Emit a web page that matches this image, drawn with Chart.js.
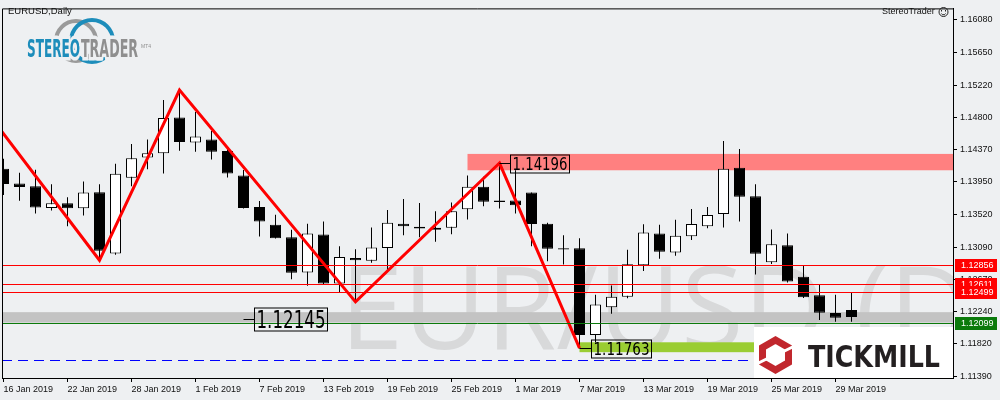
<!DOCTYPE html>
<html>
<head>
<meta charset="utf-8">
<script src="https://cdn.jsdelivr.net/npm/chart.js@4.4.1/dist/chart.umd.min.js"></script>
<style>
  html, body { margin: 0; padding: 0; background: #eef0f2; }
  #wrap { width: 1000px; height: 400px; }
</style>
</head>
<body>
<div id="wrap"><canvas id="chart" width="1000" height="400"></canvas></div>
<script>
// daily EURUSD candles, 16 Jan 2019 .. 1 Apr 2019
const dates = [
  "16 Jan 2019", "17 Jan 2019", "18 Jan 2019", "21 Jan 2019", "22 Jan 2019", "23 Jan 2019",
  "24 Jan 2019", "25 Jan 2019", "28 Jan 2019", "29 Jan 2019", "30 Jan 2019", "31 Jan 2019",
  "1 Feb 2019", "4 Feb 2019", "5 Feb 2019", "6 Feb 2019", "7 Feb 2019", "8 Feb 2019",
  "11 Feb 2019", "12 Feb 2019", "13 Feb 2019", "14 Feb 2019", "15 Feb 2019", "18 Feb 2019",
  "19 Feb 2019", "20 Feb 2019", "21 Feb 2019", "22 Feb 2019", "25 Feb 2019", "26 Feb 2019",
  "27 Feb 2019", "28 Feb 2019", "1 Mar 2019", "4 Mar 2019", "5 Mar 2019", "6 Mar 2019",
  "7 Mar 2019", "8 Mar 2019", "11 Mar 2019", "12 Mar 2019", "13 Mar 2019", "14 Mar 2019",
  "15 Mar 2019", "18 Mar 2019", "19 Mar 2019", "20 Mar 2019", "21 Mar 2019", "22 Mar 2019",
  "25 Mar 2019", "26 Mar 2019", "27 Mar 2019", "28 Mar 2019", "29 Mar 2019", "1 Apr 2019"
];
const opens = [
  1.14122, 1.13928, 1.13890, 1.13606, 1.13666, 1.13602, 1.13812, 1.13008, 1.14002, 1.14268,
  1.14325, 1.14793, 1.14467, 1.14505, 1.14354, 1.14032, 1.13619, 1.13386, 1.13219, 1.12758,
  1.13257, 1.12612, 1.12947, 1.12913, 1.13080, 1.13399, 1.13360, 1.13344, 1.13344, 1.13589,
  1.13886, 1.13705, 1.13705, 1.13808, 1.13399, 1.13077, 1.13077, 1.11937, 1.12302, 1.12440,
  1.12853, 1.13270, 1.13021, 1.13235, 1.13364, 1.13525, 1.14135, 1.13761, 1.12892, 1.13115,
  1.12702, 1.12457, 1.12225, 1.12263
];
const highs = [
  1.14251, 1.14070, 1.14109, 1.13916, 1.13748, 1.13954, 1.13916, 1.14187, 1.14445, 1.14505,
  1.15026, 1.15155, 1.14867, 1.14616, 1.14380, 1.14105, 1.13696, 1.13515, 1.13318, 1.13399,
  1.13429, 1.13102, 1.13064, 1.13348, 1.13580, 1.13722, 1.13670, 1.13563, 1.13679, 1.14032,
  1.14015, 1.14196, 1.14100, 1.13808, 1.13412, 1.13248, 1.13206, 1.12466, 1.12586, 1.13055,
  1.13390, 1.13386, 1.13451, 1.13593, 1.13619, 1.14487, 1.14380, 1.13916, 1.13322, 1.13270,
  1.12853, 1.12599, 1.12466, 1.12500
];
const lows = [
  1.13777, 1.13700, 1.13532, 1.13571, 1.13364, 1.13506, 1.12918, 1.12990, 1.13890, 1.14113,
  1.14058, 1.14358, 1.14345, 1.14242, 1.14006, 1.13599, 1.13232, 1.13205, 1.12667, 1.12582,
  1.12605, 1.12487, 1.12371, 1.12887, 1.12763, 1.13248, 1.13219, 1.13163, 1.13261, 1.13455,
  1.13628, 1.13597, 1.13532, 1.13102, 1.12905, 1.12861, 1.11763, 1.11841, 1.12216, 1.12418,
  1.12776, 1.12939, 1.12977, 1.13184, 1.13339, 1.13348, 1.13429, 1.12732, 1.12870, 1.12625,
  1.12422, 1.12134, 1.12109, 1.12109
];
const closes = [
  1.13919, 1.13881, 1.13610, 1.13666, 1.13602, 1.13808, 1.13042, 1.14054, 1.14260, 1.14325,
  1.14789, 1.14474, 1.14544, 1.14345, 1.14058, 1.13606, 1.13429, 1.13209, 1.12754, 1.13270,
  1.12612, 1.12960, 1.12918, 1.13086, 1.13412, 1.13364, 1.13334, 1.13318, 1.13563, 1.13886,
  1.13687, 1.13683, 1.13640, 1.13395, 1.13068, 1.13060, 1.11937, 1.12337, 1.12440, 1.12866,
  1.13283, 1.13029, 1.13241, 1.13395, 1.13512, 1.14122, 1.13752, 1.13003, 1.13128, 1.12638,
  1.12431, 1.12229, 1.12164, 1.12173
];

// zigzag swing points (candle index, price); index -4 = 10 Jan 2019, off the left edge
const zigIdx = [-4, 6, 11, 22, 31, 36];
const zigPrice = [1.15690, 1.12918, 1.15155, 1.12371, 1.14196, 1.11763];

// price labels with a leader line
const markIdx = [15, 31, 36];
const markPrice = [1.12145, 1.14196, 1.11763];

// horizontal levels and zones
const redLevels = [1.12856, 1.12611, 1.12499];
const greenLevel = 1.12099;
const blueLevel = 1.11605;
const grayZone = [1.12099, 1.12236];
const resistZone = [1.14101, 1.14316];
const resistStart = 29;
const supportZone = [1.11710, 1.11840];
const supportStart = 36;

// axes
const priceTicks = [1.16080, 1.15650, 1.15220, 1.14800, 1.14370, 1.13950, 1.13520, 1.13090,
  1.12670, 1.12240, 1.11820, 1.11390];
const xTickIdx = [0, 4, 8, 12, 16, 20, 24, 28, 32, 36, 40, 44, 48, 52];
const yMin = 1.113706, yMax = 1.162286;
const xMin = -0.09375, xMax = 59.34375;

const BG = "#eef0f2";
const AXIS_FONT = { family: "'Liberation Sans', Arial, sans-serif", size: 9 };

function fitText(ctx, text, x, y, w, font, color) {
  ctx.save();
  ctx.font = font;
  const m = ctx.measureText(text).width;
  ctx.translate(x, y);
  ctx.scale(w / m, 1);
  ctx.fillStyle = color;
  ctx.textBaseline = "alphabetic";
  ctx.fillText(text, 0, 0);
  ctx.restore();
}

const overlay = {
  id: "overlay",
  beforeDraw(chart) {
    const ctx = chart.ctx;
    ctx.save();
    ctx.fillStyle = BG;
    ctx.fillRect(0, 0, chart.width, chart.height);
    ctx.restore();
  },
  beforeDatasetsDraw(chart) {
    const { ctx, chartArea: a, scales: { x, y } } = chart;
    ctx.save();
    ctx.beginPath();
    ctx.rect(a.left, a.top, a.right - a.left, a.bottom - a.top);
    ctx.clip();

    // symbol watermark
    fitText(ctx, "EUR/USD (D1)", 340, 349, 730, '115px "Open Sans"', "#d8d9da");

    // zones
    ctx.fillStyle = "#c3c3c3";
    ctx.fillRect(a.left, y.getPixelForValue(grayZone[1]), a.right - a.left,
      y.getPixelForValue(grayZone[0]) - y.getPixelForValue(grayZone[1]));
    ctx.fillStyle = "#ff8080";
    const rx = x.getPixelForValue(resistStart);
    ctx.fillRect(rx, y.getPixelForValue(resistZone[1]), a.right - rx,
      y.getPixelForValue(resistZone[0]) - y.getPixelForValue(resistZone[1]));
    ctx.fillStyle = "#9acd32";
    const sx = x.getPixelForValue(supportStart);
    ctx.fillRect(sx, y.getPixelForValue(supportZone[1]), a.right - sx,
      y.getPixelForValue(supportZone[0]) - y.getPixelForValue(supportZone[1]));

    // dashed level
    ctx.strokeStyle = "#0000ff";
    ctx.lineWidth = 1;
    ctx.setLineDash([10, 6]);
    const by = Math.round(y.getPixelForValue(blueLevel)) + 0.5;
    ctx.beginPath();
    ctx.moveTo(a.left, by);
    ctx.lineTo(a.right, by);
    ctx.stroke();
    ctx.restore();
  },
  afterDatasetsDraw(chart) {
    const { ctx, chartArea: a, scales: { x, y } } = chart;
    ctx.save();
    ctx.beginPath();
    ctx.rect(a.left, a.top, a.right - a.left, a.bottom - a.top);
    ctx.clip();
    ctx.lineWidth = 1;
    redLevels.forEach(v => {
      const py = Math.round(y.getPixelForValue(v)) + 0.5;
      ctx.strokeStyle = "#ff0000";
      ctx.beginPath(); ctx.moveTo(a.left, py); ctx.lineTo(a.right, py); ctx.stroke();
    });
    const gy = Math.round(y.getPixelForValue(greenLevel)) + 0.5;
    ctx.strokeStyle = "#0b7a0b";
    ctx.beginPath(); ctx.moveTo(a.left, gy); ctx.lineTo(a.right, gy); ctx.stroke();

    // swing price labels
    const boxW = [73, 59, 60], boxH = [23, 18, 18], fs = [24, 18, 18];
    markIdx.forEach((idx, i) => {
      const px = x.getPixelForValue(idx);
      const py = Math.round(y.getPixelForValue(markPrice[i])) + 0.5;
      const left = Math.round(px + 11) + 0.5;
      ctx.strokeStyle = "#000";
      ctx.beginPath(); ctx.moveTo(px, py); ctx.lineTo(left, py); ctx.stroke();
      ctx.strokeRect(left, Math.round(py - boxH[i] / 2), boxW[i], boxH[i]);
      fitText(ctx, markPrice[i].toFixed(5), left + 2, py + fs[i] * 0.36,
        boxW[i] - 4, fs[i] + 'px "DejaVu Sans"', "#000");
    });
    ctx.restore();
  },
  afterDraw(chart) {
    const { ctx, chartArea: a, scales: { y } } = chart;
    ctx.save();
    // frame top / left
    ctx.strokeStyle = "#000";
    ctx.lineWidth = 1;
    ctx.beginPath();
    ctx.moveTo(a.left + 0.5, a.bottom);
    ctx.lineTo(a.left + 0.5, a.top + 0.5);
    ctx.lineTo(a.right, a.top + 0.5);
    ctx.stroke();

    // price tags on the axis
    ctx.font = "9px 'Liberation Sans', Arial, sans-serif";
    ctx.textBaseline = "middle";
    const tag = (v, col) => {
      const py = Math.round(y.getPixelForValue(v));
      ctx.fillStyle = col;
      ctx.fillRect(955, py - 6, 42, 13);
      ctx.fillStyle = "#fff";
      ctx.fillText(v.toFixed(5), 961, py + 0.5);
    };
    redLevels.forEach(v => tag(v, "#ff0000"));
    tag(greenLevel, "#0b7a0b");

    // captions
    ctx.fillStyle = "#111";
    ctx.font = "9.5px 'Liberation Sans', Arial, sans-serif";
    ctx.fillText("EURUSD,Daily", 8, 11);
    ctx.font = "9px 'Liberation Sans', Arial, sans-serif";
    ctx.fillText("StereoTrader", 882, 12);
    ctx.strokeStyle = "#222";
    ctx.beginPath(); ctx.arc(943.5, 12, 4.5, 0, Math.PI * 2); ctx.stroke();
    ctx.fillStyle = "#222";
    ctx.fillRect(941, 10, 1, 1.5); ctx.fillRect(945, 10, 1, 1.5);
    ctx.beginPath(); ctx.arc(943.5, 12.5, 2.3, 0.15 * Math.PI, 0.85 * Math.PI); ctx.stroke();

    // StereoTrader logo
    ctx.lineWidth = 4;
    ctx.strokeStyle = "#9a9a9a";
    ctx.beginPath(); ctx.arc(76, 41, 20, 0, Math.PI * 2); ctx.stroke();
    ctx.strokeStyle = "#1d8dbb";
    ctx.beginPath(); ctx.arc(92, 41, 21, 0, Math.PI * 2); ctx.stroke();
    ctx.save();
    ctx.font = 'bold 25px "DejaVu Sans"';
    const w1 = ctx.measureText("STEREO").width, w2 = ctx.measureText("TRADER").width;
    ctx.translate(27, 50);
    ctx.scale(53 / w1, 1);
    ctx.lineWidth = 7; ctx.strokeStyle = BG;
    ctx.strokeText("STEREO", 0, 0);
    ctx.fillStyle = "#1d8dbb"; ctx.fillText("STEREO", 0, 0);
    ctx.restore();
    ctx.save();
    ctx.font = 'bold 25px "DejaVu Sans"';
    ctx.translate(81, 50);
    ctx.scale(57 / w2, 1);
    ctx.lineWidth = 7; ctx.strokeStyle = BG;
    ctx.strokeText("TRADER", 0, 0);
    ctx.fillStyle = "#8f8f8f"; ctx.fillText("TRADER", 0, 0);
    ctx.restore();
    ctx.fillStyle = "#8f8f8f";
    ctx.font = "5px 'Liberation Sans'";
    ctx.fillText("MT4", 141, 47);

    // Tickmill badge
    ctx.fillStyle = "#fff";
    ctx.fillRect(754, 327, a.right - 754, a.bottom - 327);
    const cx = 775.5, cy = 355, r = 15;
    ctx.lineWidth = 7; ctx.strokeStyle = "#c1272d"; ctx.lineJoin = "miter";
    ctx.beginPath();
    for (let k = 0; k < 6; k++) {
      const ang = -Math.PI / 2 + k * Math.PI / 3;
      const hx = cx + r * Math.cos(ang), hy = cy + r * Math.sin(ang);
      k ? ctx.lineTo(hx, hy) : ctx.moveTo(hx, hy);
    }
    ctx.closePath(); ctx.stroke();
    ctx.strokeStyle = "#fff"; ctx.lineWidth = 3;
    ctx.beginPath(); ctx.moveTo(cx + 7, cy - 3); ctx.lineTo(cx + 21, cy - 10); ctx.stroke();
    ctx.beginPath(); ctx.moveTo(cx - 7, cy + 3); ctx.lineTo(cx - 21, cy + 10); ctx.stroke();
    ctx.restore();
    fitText(ctx, "TICKMILL", 808, 367, 132, 'bold 30px "DejaVu Sans"', "#231f20");
  }
};

const wicks = dates.map((d, i) => ({ x: i, y: [lows[i], highs[i]] }));
const bodies = dates.map((d, i) => ({ x: i, y: [opens[i], closes[i]] }));
const bodyColors = dates.map((d, i) => (closes[i] >= opens[i] ? "#ffffff" : "#000000"));
const zigzag = zigIdx.map((v, i) => ({ x: v, y: zigPrice[i] }));

new Chart(document.getElementById("chart"), {
  type: "bar",
  data: {
    datasets: [
      {
        type: "line", data: zigzag, borderColor: "#ff0000", borderWidth: 3,
        pointRadius: 0, fill: false, tension: 0, clip: 0, order: 0
      },
      {
        data: bodies, backgroundColor: bodyColors, borderColor: "#000", borderWidth: 1,
        borderSkipped: false, barThickness: 11, grouped: false, inflateAmount: 0, clip: 0, order: 1
      },
      {
        data: wicks, backgroundColor: "#000", borderWidth: 0, barThickness: 1,
        grouped: false, inflateAmount: 0, clip: 0, order: 2
      }
    ]
  },
  options: {
    responsive: false,
    animation: false,
    layout: { padding: { left: 2, top: 2, right: 0, bottom: 0 } },
    plugins: { legend: { display: false }, tooltip: { enabled: false } },
    scales: {
      x: {
        type: "linear", min: xMin, max: xMax, offset: false,
        afterBuildTicks: s => { s.ticks = xTickIdx.map(v => ({ value: v })); },
        afterFit: s => { s.height = 22; },
        grid: { drawOnChartArea: false, drawTicks: true, tickLength: 4, color: "#000", offset: false },
        border: { display: true, color: "#000" },
        ticks: {
          align: "start", padding: 2, autoSkip: false, maxRotation: 0, color: "#111",
          font: AXIS_FONT, callback: v => dates[v]
        }
      },
      y: {
        position: "right", min: yMin, max: yMax,
        afterBuildTicks: s => { s.ticks = priceTicks.map(v => ({ value: v })); },
        afterFit: s => { s.width = 47; },
        grid: { drawOnChartArea: false, drawTicks: true, tickLength: 4, color: "#000" },
        border: { display: true, color: "#000" },
        ticks: {
          padding: 3, autoSkip: false, color: "#111", font: AXIS_FONT,
          callback: v => v.toFixed(5)
        }
      }
    }
  },
  plugins: [overlay]
});
</script>
</body>
</html>
